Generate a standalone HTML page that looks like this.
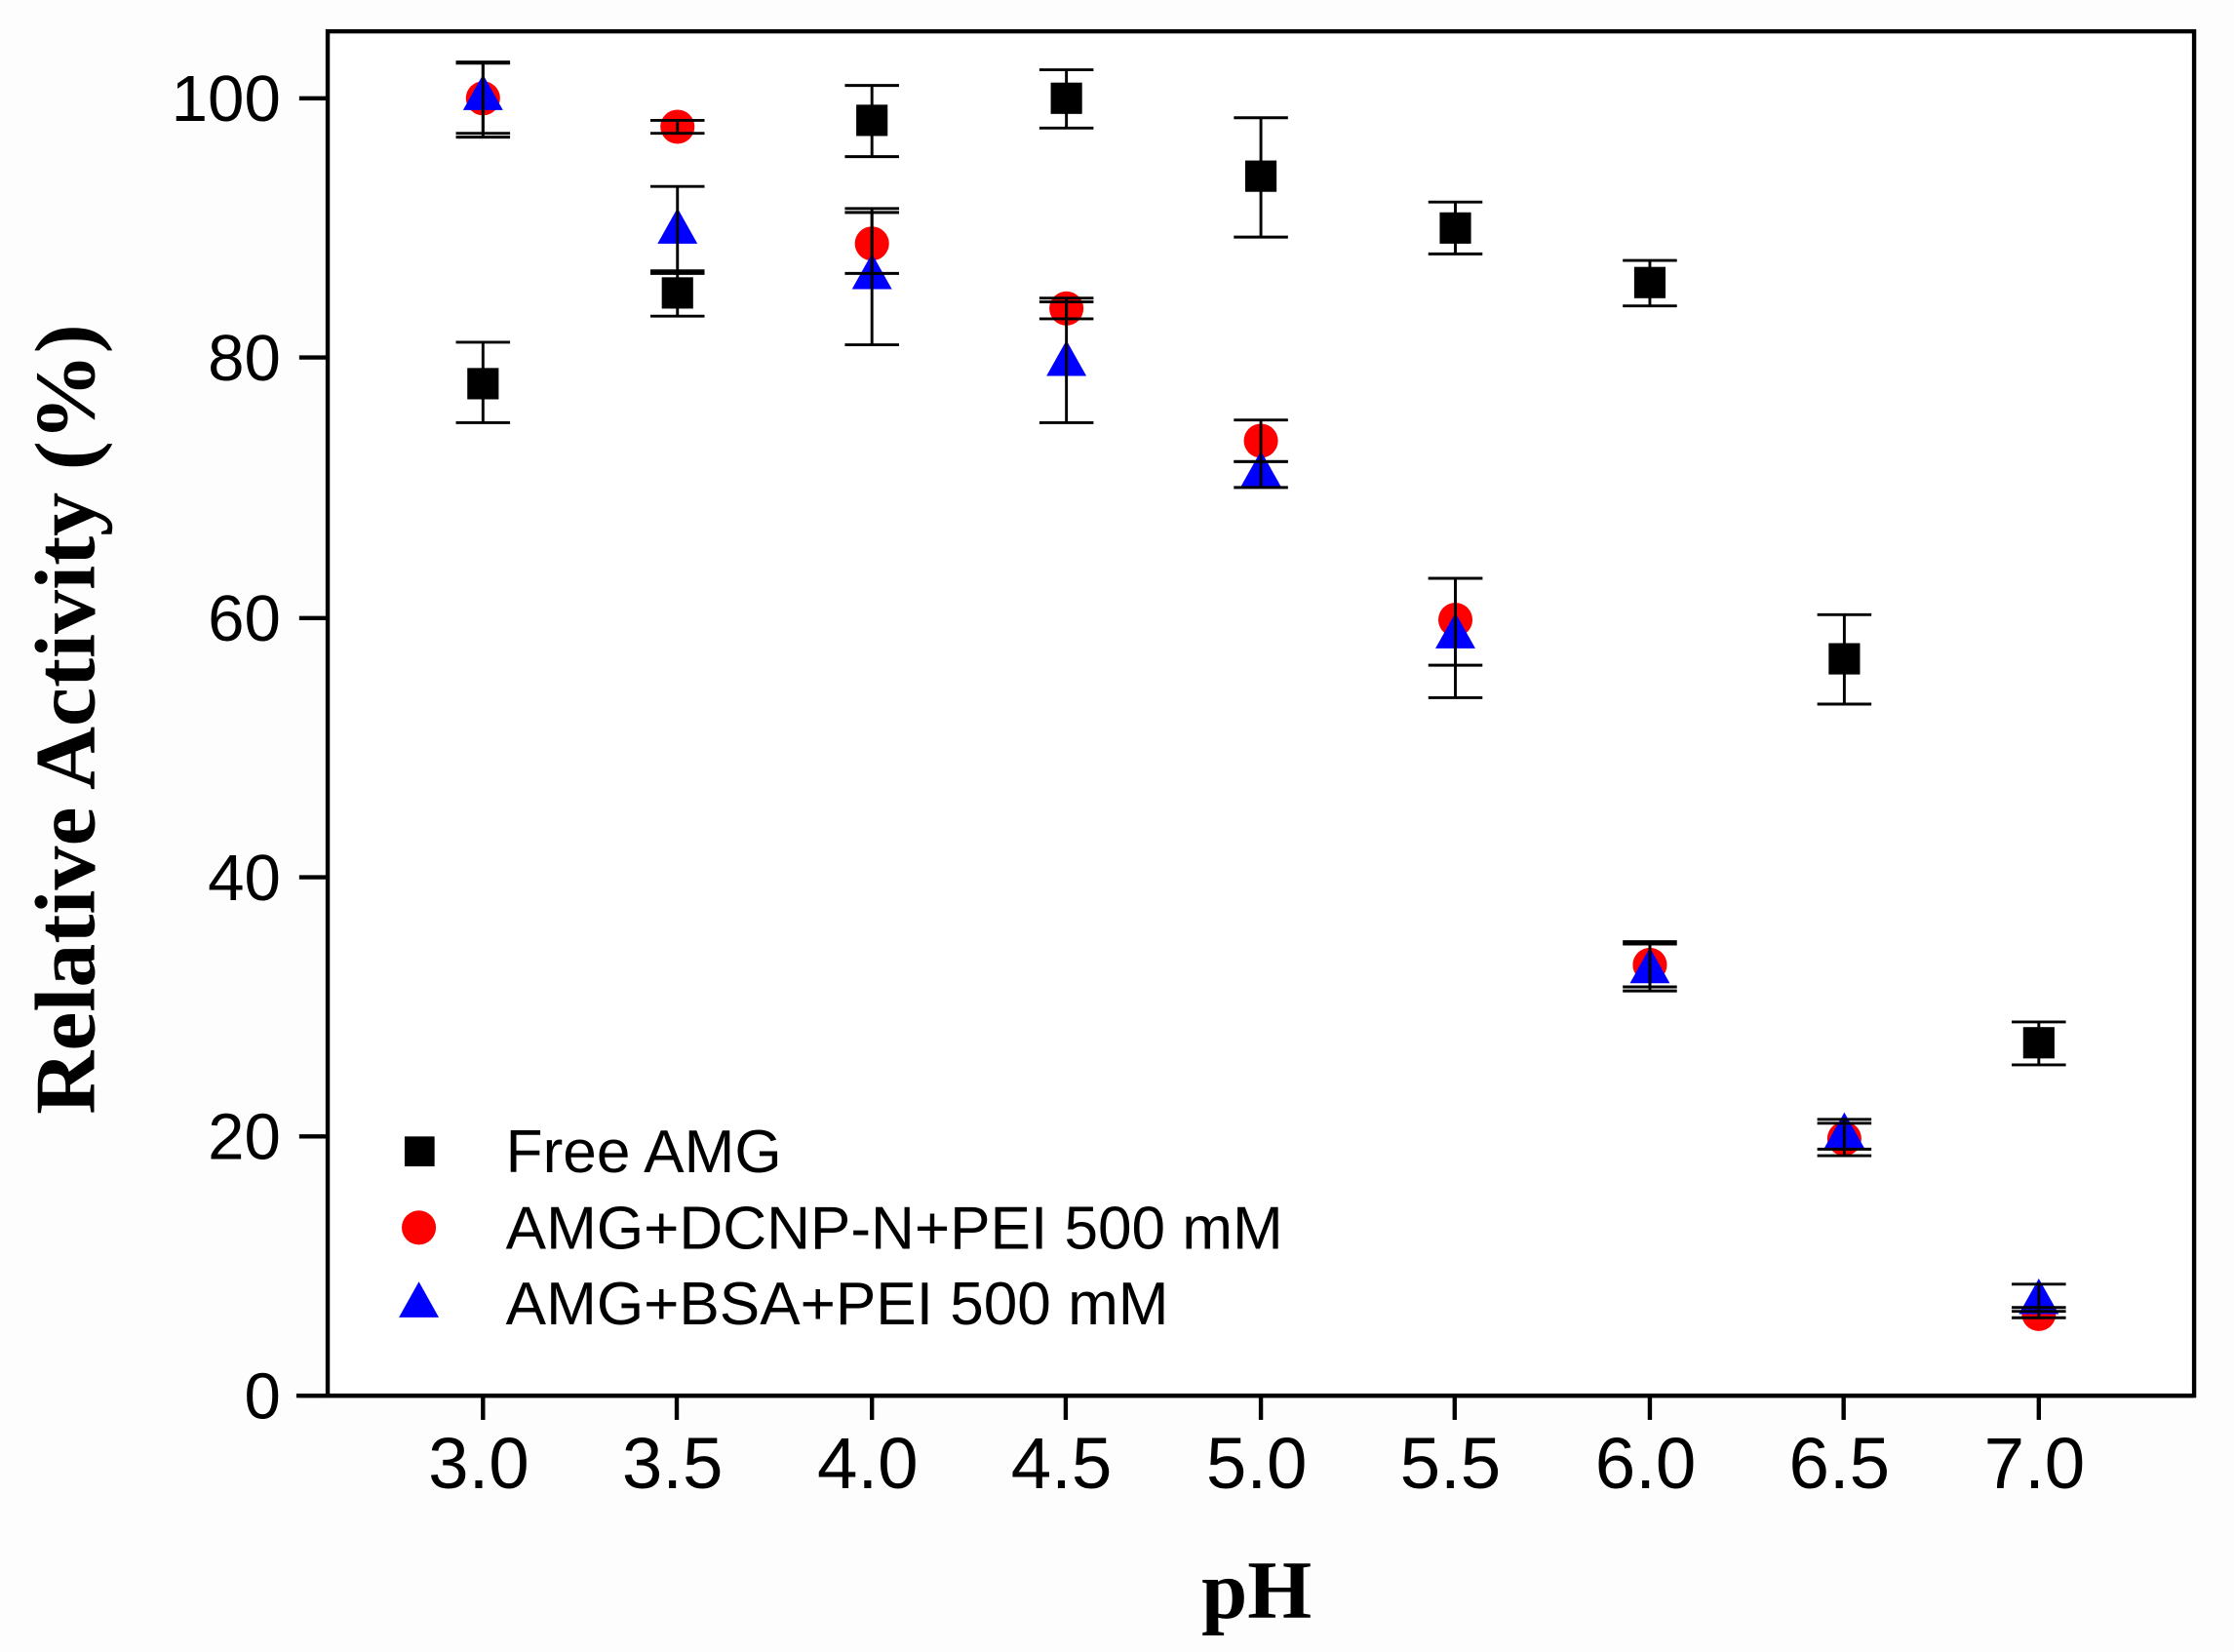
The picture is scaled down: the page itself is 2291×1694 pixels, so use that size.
<!DOCTYPE html>
<html><head><meta charset="utf-8"><style>html,body{margin:0;padding:0;background:#fff}svg{display:block}</style></head>
<body>
<svg width="2291" height="1694" viewBox="0 0 1568 1160" preserveAspectRatio="none" xmlns="http://www.w3.org/2000/svg">
<rect x="0" y="0" width="1568" height="1160" fill="#fdfdfd"/>
<rect x="230" y="22" width="1310" height="958" fill="#fff" stroke="#000" stroke-width="3"/>
<line x1="208" y1="980" x2="1540" y2="980" stroke="#000" stroke-width="3"/>
<g stroke="#000" stroke-width="3">
<line x1="210" y1="980" x2="230" y2="980"/><line x1="210" y1="798" x2="230" y2="798"/><line x1="210" y1="616" x2="230" y2="616"/><line x1="210" y1="434" x2="230" y2="434"/><line x1="210" y1="251" x2="230" y2="251"/><line x1="210" y1="69" x2="230" y2="69"/>
<line x1="339" y1="980" x2="339" y2="997"/><line x1="475" y1="980" x2="475" y2="997"/><line x1="612" y1="980" x2="612" y2="997"/><line x1="748" y1="980" x2="748" y2="997"/><line x1="885" y1="980" x2="885" y2="997"/><line x1="1021" y1="980" x2="1021" y2="997"/><line x1="1158" y1="980" x2="1158" y2="997"/><line x1="1294" y1="980" x2="1294" y2="997"/><line x1="1431" y1="980" x2="1431" y2="997"/>
</g>
<g font-family="Liberation Sans, sans-serif" font-size="46" text-anchor="end" fill="#000">
<text x="197" y="996">0</text><text x="197" y="814">20</text><text x="197" y="632">40</text><text x="197" y="450">60</text><text x="197" y="267">80</text><text x="197" y="85">100</text>
</g>
<g font-family="Liberation Sans, sans-serif" font-size="51" text-anchor="middle" fill="#000">
<text x="336" y="1045">3.0</text><text x="472" y="1045">3.5</text><text x="609" y="1045">4.0</text><text x="745" y="1045">4.5</text><text x="882" y="1045">5.0</text><text x="1018" y="1045">5.5</text><text x="1155" y="1045">6.0</text><text x="1291" y="1045">6.5</text><text x="1428" y="1045">7.0</text>
</g>
<text x="882" y="1136" font-family="Liberation Serif, serif" font-weight="bold" font-size="58" text-anchor="middle">pH</text>
<text transform="translate(66,505) rotate(-90)" font-family="Liberation Serif, serif" font-weight="bold" font-size="60" text-anchor="middle" textLength="555" lengthAdjust="spacingAndGlyphs">Relative Activity (%)</text>
<g fill="#000">
<rect x="328" y="258.4" width="22" height="22"/><rect x="464.5" y="194.7" width="22" height="22"/><rect x="601" y="73.5" width="22" height="22"/><rect x="737.5" y="58" width="22" height="22"/><rect x="874" y="112.7" width="22" height="22"/><rect x="1010.5" y="149.1" width="22" height="22"/><rect x="1147" y="187.4" width="22" height="22"/><rect x="1283.5" y="451.6" width="22" height="22"/><rect x="1420" y="721.2" width="22" height="22"/>
</g>
<g fill="#f00">
<circle cx="339" cy="69" r="12"/><circle cx="475.5" cy="89" r="12"/><circle cx="612" cy="171" r="12"/><circle cx="748.5" cy="216.6" r="12"/><circle cx="885" cy="309.5" r="12"/><circle cx="1021.5" cy="435.2" r="12"/><circle cx="1158" cy="677.5" r="12"/><circle cx="1294.5" cy="799.6" r="12"/><circle cx="1431" cy="922.6" r="12"/>
</g>
<g fill="#00f">
<polygon points="339,52.3 353,77.3 325,77.3"/><polygon points="475.5,146.1 489.5,171.1 461.5,171.1"/><polygon points="612,178 626,203 598,203"/><polygon points="748.5,239 762.5,264 734.5,264"/><polygon points="885,316.5 899,341.5 871,341.5"/><polygon points="1021.5,430.3 1035.5,455.3 1007.5,455.3"/><polygon points="1158,665.4 1172,690.4 1144,690.4"/><polygon points="1294.5,781.1 1308.5,806.1 1280.5,806.1"/><polygon points="1431,897.7 1445,922.7 1417,922.7"/>
</g>
<g stroke="#000" stroke-width="2" fill="none">
<path d="M339 296.8V240.3M320 296.8h38M320 240.3h38"/>
<path d="M475.5 222V190.2M456.5 222h38M456.5 190.2h38"/>
<path d="M612 110V60M593 110h38M593 60h38"/>
<path d="M748.5 89.9V49M729.5 89.9h38M729.5 49h38"/>
<path d="M885 166.5V82.7M866 166.5h38M866 82.7h38"/>
<path d="M1021.5 178.3V141.9M1002.5 178.3h38M1002.5 141.9h38"/>
<path d="M1158 214.8V182.9M1139 214.8h38M1139 182.9h38"/>
<path d="M1294.5 494.4V431.6M1275.5 494.4h38M1275.5 431.6h38"/>
<path d="M1431 747.7V717.6M1412 747.7h38M1412 717.6h38"/>
<path d="M339 93.6V43.5M320 93.6h38M320 43.5h38"/>
<path d="M475.5 93.6V84.5M456.5 93.6h38M456.5 84.5h38"/>
<path d="M612 192V146.4M593 192h38M593 146.4h38"/>
<path d="M748.5 223.9V209.3M729.5 223.9h38M729.5 209.3h38"/>
<path d="M885 324.1V294.9M866 324.1h38M866 294.9h38"/>
<path d="M1021.5 467.1V406.1M1002.5 467.1h38M1002.5 406.1h38"/>
<path d="M1158 693V661.2M1139 693h38M1139 661.2h38"/>
<path d="M1294.5 811.5V788.7M1275.5 811.5h38M1275.5 788.7h38"/>
<path d="M1431 925.3V918.1M1412 925.3h38M1412 918.1h38"/>
<path d="M339 96.3V44.4M320 96.3h38M320 44.4h38"/>
<path d="M475.5 192V130.9M456.5 192h38M456.5 130.9h38"/>
<path d="M612 242.1V149.2M593 242.1h38M593 149.2h38"/>
<path d="M748.5 296.8V212M729.5 296.8h38M729.5 212h38"/>
<path d="M885 342.3V324.1M866 342.3h38M866 324.1h38"/>
<path d="M1021.5 489.9V406.1M1002.5 489.9h38M1002.5 406.1h38"/>
<path d="M1158 695.8V662.9M1139 695.8h38M1139 662.9h38"/>
<path d="M1294.5 806.9V786M1275.5 806.9h38M1275.5 786h38"/>
<path d="M1431 920.8V901.7M1412 920.8h38M1412 901.7h38"/>
</g>
<g font-family="Liberation Sans, sans-serif" font-size="42.5" fill="#000">
<rect x="284" y="798" width="21" height="21" fill="#000"/><text x="355" y="823">Free AMG</text>
<circle cx="294" cy="862" r="12" fill="#f00"/><text x="355" y="877">AMG+DCNP-N+PEI 500 mM</text>
<polygon points="294,900 308,925 280,925" fill="#00f"/><text x="355" y="930">AMG+BSA+PEI 500 mM</text>
</g>
</svg>
</body></html>
